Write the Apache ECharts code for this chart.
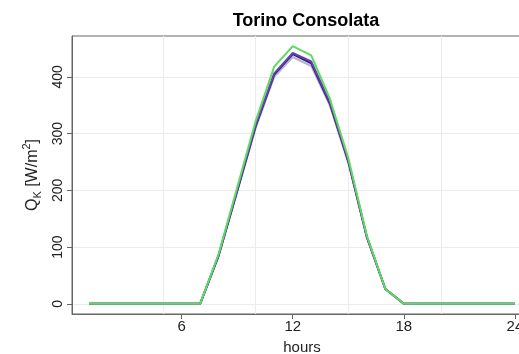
<!DOCTYPE html>
<html>
<head>
<meta charset="utf-8">
<script src="https://cdn.jsdelivr.net/npm/echarts@6/dist/echarts.min.js"></script>
<style>html,body{margin:0;padding:0;background:#fff}#c{width:519px;height:354px}</style>
</head>
<body>
<div id="c"></div>
<script>
const hours = [1,2,3,4,5,6,7,8,9,10,11,12,13,14,15,16,17,18,19,20,21,22,23,24];
const grayVals   = [0,0,0,0,0,0,0,85,197,310,400,435,419,350,248,117,26,0,0,0,0,0,0,0];
const blueVals   = [0,0,0,0,0,0,0,85,199,313,404,440,424,353,251,118,26,0,0,0,0,0,0,0];
const purpleVals = [0,0,0,0,0,0,0,86,200,315,406,442,427,356,252,118,26,0,0,0,0,0,0,0];
const greenVals  = [0,0,0,0,0,0,0,88,205,322,418,454,438,362,257,120,26,0,0,0,0,0,0,0];
const xTicks = [6,12,18,24];
const yTicks = [0,100,200,300,400];
const xGrid = [5,10,15,20];

const font = 'Liberation Sans, Arial, sans-serif';
const chart = echarts.init(document.getElementById('c'), null, {renderer:'canvas'});
function mk(vals, color, extra) {
  return Object.assign({
    type:'line', data: hours.map((h,i)=>[h, vals[i]]), symbol:'none',
    lineStyle:{color:color, width:2}, itemStyle:{color:color}, silent:true, animation:false
  }, extra||{});
}
const gridLineStyle = {color:'#ececec', width:1, type:'solid'};
chart.setOption({
  animation:false,
  title:{text:'Torino Consolata', left:301, top:7, textAlign:'center',
    textStyle:{fontFamily:font, fontWeight:'bold', fontSize:18, color:'#000'}},
  grid:{left:72, top:36, right:-13, bottom:40, outerBoundsMode:'none', containLabel:false,
    show:true, borderColor:'#666', borderWidth:1, backgroundColor:'transparent'},
  xAxis:{type:'value', min:0.08, max:24.92,
    name:'hours', nameLocation:'middle', nameGap:26,
    nameTextStyle:{fontFamily:font, fontSize:15, color:'#222'},
    axisLine:{show:true, onZero:false, lineStyle:{color:'#666'}},
    axisTick:{show:true, customValues:xTicks, length:5, lineStyle:{color:'#666'}},
    axisLabel:{show:true, customValues:xTicks, fontFamily:font, fontSize:15, color:'#222', margin:5},
    splitLine:{show:false}},
  yAxis:{type:'value', min:-18, max:472,
    name:'{q|Q}{sub|K}{t| [W/m}{sup|2}{t|]}', nameLocation:'middle', nameRotate:90, nameGap:27,
    nameTextStyle:{fontFamily:font, fontSize:16, color:'#222', lineHeight:22,
      rich:{q:{fontFamily:font, fontSize:16, color:'#222', lineHeight:22},
            t:{fontFamily:font, fontSize:16, color:'#222', lineHeight:22},
            sub:{fontFamily:font, fontSize:11, color:'#222', verticalAlign:'bottom', lineHeight:22, padding:[4,0,0,0]},
            sup:{fontFamily:font, fontSize:11, color:'#222', verticalAlign:'top', lineHeight:22, padding:[0,0,6,0]}}},
    axisLine:{show:true, onZero:false, lineStyle:{color:'#666'}},
    axisTick:{show:true, customValues:yTicks, length:5, lineStyle:{color:'#666'}},
    axisLabel:{show:true, customValues:yTicks, rotate:90, fontFamily:font, fontSize:14, color:'#222', margin:7},
    splitLine:{show:false}},
  series:[
    mk(grayVals, '#b8b2c2', {markLine:{silent:true, symbol:'none', label:{show:false}, lineStyle:gridLineStyle, z:0,
      data: xGrid.map(v=>({xAxis:v})).concat(yTicks.map(v=>({yAxis:v})))}}),
    mk(blueVals, '#1f1f8f'),
    mk(purpleVals, '#6a3fb0'),
    mk(greenVals, '#5fdc5f')
  ]
});
</script>
</body>
</html>
